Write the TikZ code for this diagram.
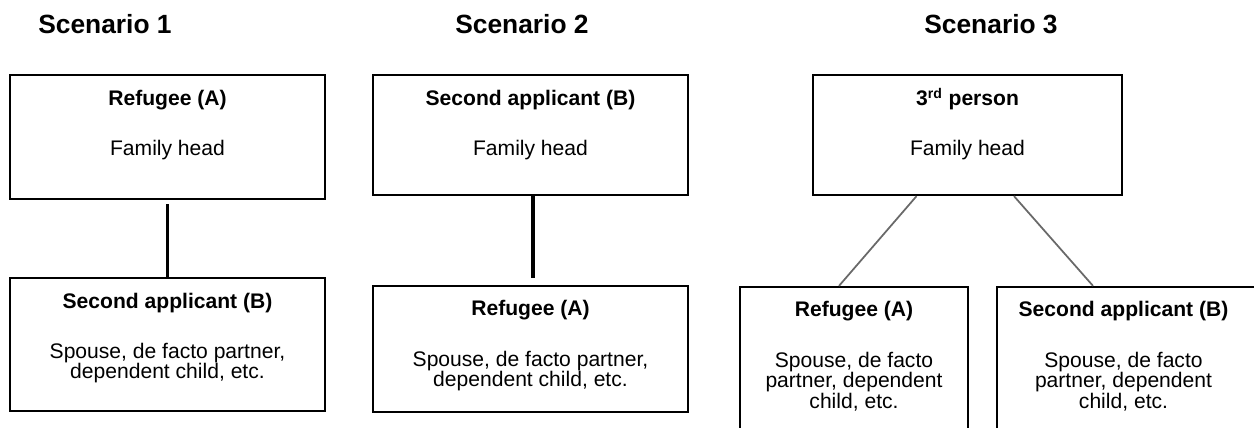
\documentclass[tikz,border=0pt]{standalone}
\usepackage{fontspec}
\setmainfont{Liberation Sans}
\usetikzlibrary{positioning,calc}
\definecolor{linkgray}{RGB}{105,105,105}
\tikzset{
    box/.style={rectangle, draw, line width=1.3pt, inner sep=0pt},
    title/.style={font=\bfseries\fontsize{15}{18}\selectfont, anchor=base},
    head/.style={font=\bfseries\fontsize{12}{14}\selectfont, anchor=base},
    role/.style={font=\fontsize{12}{11.6}\selectfont, align=center, anchor=north, inner sep=0pt},
    link/.style={line width=1.8pt},
    thinlink/.style={line width=1pt, color=linkgray}
}

\begin{document}
\begin{tikzpicture}[x=0.02cm, y=-0.02cm]
    \clip (0,0) rectangle (1254,427);

    % Scenario 1
    \node[title] (sc1) at (105,33) {Scenario 1};
    \node[box, minimum width=6.3cm, minimum height=2.48cm] (refA1) at (167.5,137) {};
    \node[head] (refA1h) at ($(refA1.north)+(0,32)$) {Refugee (A)};
    \node[role] (refA1r) at ($(refA1.north)+(0,66)$) {Family head};
    \node[box, minimum width=6.3cm, minimum height=2.66cm] (secB1) at (167.5,344.5) {};
    \node[head] (secB1h) at ($(secB1.north)+(0,32)$) {Second applicant (B)};
    \node[role] (secB1r) at ($(secB1.north)+(0,66)$) {Spouse, de facto partner,\\dependent child, etc.};
    \draw[link, shorten <=0.08cm] (refA1) -- (secB1);

    % Scenario 2
    \node[title] (sc2) at (522,33) {Scenario 2};
    \node[box, minimum width=6.3cm, minimum height=2.4cm] (secB2) at (530.5,135) {};
    \node[head] (secB2h) at ($(secB2.north)+(0,32)$) {Second applicant (B)};
    \node[role] (secB2r) at ($(secB2.north)+(0,66)$) {Family head};
    \node[box, minimum width=6.3cm, minimum height=2.52cm] (refA2) at (530.5,349) {};
    \node[head] (refA2h) at ($(refA2.north)+(0,31)$) {Refugee (A)};
    \node[role] (refA2r) at ($(refA2.north)+(0,66)$) {Spouse, de facto partner,\\dependent child, etc.};
    \draw[link, shorten >=0.14cm] ([xshift=0.05cm]secB2.south) -- ([xshift=0.05cm]refA2.north);

    % Scenario 3
    \node[title] (sc3) at (991,33) {Scenario 3};
    \node[box, minimum width=6.18cm, minimum height=2.4cm] (third3) at (967.5,135) {};
    \node[head] (third3h) at ($(third3.north)+(0,32)$) {3\textsuperscript{rd} person};
    \node[role] (third3r) at ($(third3.north)+(0,66)$) {Family head};
    \node[box, minimum width=4.56cm, minimum height=3.46cm] (refA3) at (854,373.5) {};
    \node[head] (refA3h) at ($(refA3.north)+(0,31)$) {Refugee (A)};
    \node[role] (refA3r) at ($(refA3.north)+(0,66)$) {Spouse, de facto\\partner, dependent\\child, etc.};
    \node[box, minimum width=5.26cm, minimum height=3.46cm] (secB3) at (1128.5,373.5) {};
    \node[head] (secB3h) at ($(secB3.north)+(-5,31)$) {Second applicant (B)};
    \node[role] (secB3r) at ($(secB3.north)+(-5,66)$) {Spouse, de facto\\partner, dependent\\child, etc.};
    \draw[thinlink] ([xshift=-1.02cm]third3.south) -- ([xshift=-0.3cm]refA3.north);
    \draw[thinlink] ([xshift=0.93cm]third3.south) -- ([xshift=-0.71cm]secB3.north);
\end{tikzpicture}
\end{document}
